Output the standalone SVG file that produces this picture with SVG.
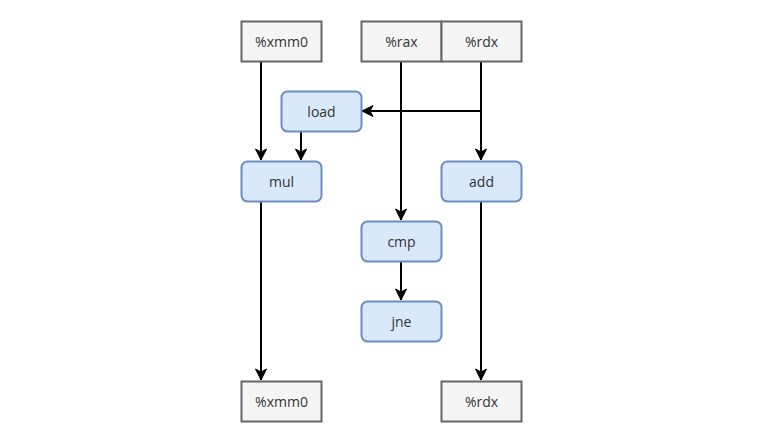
<svg xmlns="http://www.w3.org/2000/svg" width="762" height="442" viewBox="0 0 762 442">
  <style>
    .reg { fill: #f5f5f5; stroke: #666666; stroke-width: 2; }
    .op { fill: #dae8fc; stroke: #6c8ebf; stroke-width: 2; }
    .lbl { font-family: "Open Sans", "Noto Sans", sans-serif; font-size: 14px; fill: #333333; text-anchor: middle; dominant-baseline: central; }
    .edge { fill: none; stroke: #000000; stroke-width: 2; }
  </style>
  <defs>
    <marker id="arrow" markerUnits="userSpaceOnUse" markerWidth="16" markerHeight="16" viewBox="-13 -8 16 16" refX="0" refY="0" orient="auto">
      <path d="M 0 0 L -11 -5.5 L -8 0 L -11 5.5 Z" fill="#000000" stroke="#000000" stroke-width="1"/>
    </marker>
  </defs>
  <rect width="762" height="442" fill="#ffffff"/>

  <g id="connectors">
    <path class="edge" d="M 261 61 L 261 160" marker-end="url(#arrow)"/>
    <path class="edge" d="M 301 131 L 301 160" marker-end="url(#arrow)"/>
    <path class="edge" d="M 481 111 L 362 111" marker-end="url(#arrow)"/>
    <path class="edge" d="M 401 61 L 401 220" marker-end="url(#arrow)"/>
    <path class="edge" d="M 481 61 L 481 160" marker-end="url(#arrow)"/>
    <path class="edge" d="M 261 201 L 261 380" marker-end="url(#arrow)"/>
    <path class="edge" d="M 481 201 L 481 380" marker-end="url(#arrow)"/>
    <path class="edge" d="M 401 261 L 401 300" marker-end="url(#arrow)"/>
  </g>

  <g id="xmm0-in">
    <rect class="reg" x="241.5" y="21.5" width="80" height="40"/>
    <text class="lbl" x="281.5" y="41.5">%xmm0</text>
  </g>
  <g id="rax-in">
    <rect class="reg" x="361.5" y="21.5" width="80" height="40"/>
    <text class="lbl" x="401.5" y="41.5">%rax</text>
  </g>
  <g id="rdx-in">
    <rect class="reg" x="441.5" y="21.5" width="80" height="40"/>
    <text class="lbl" x="481.5" y="41.5">%rdx</text>
  </g>
  <g id="load">
    <rect class="op" x="281.5" y="91.5" width="80" height="40" rx="6" ry="6"/>
    <text class="lbl" x="321.5" y="111.5">load</text>
  </g>
  <g id="mul">
    <rect class="op" x="241.5" y="161.5" width="80" height="40" rx="6" ry="6"/>
    <text class="lbl" x="281.5" y="181.5">mul</text>
  </g>
  <g id="add">
    <rect class="op" x="441.5" y="161.5" width="80" height="40" rx="6" ry="6"/>
    <text class="lbl" x="481.5" y="181.5">add</text>
  </g>
  <g id="cmp">
    <rect class="op" x="361.5" y="221.5" width="80" height="40" rx="6" ry="6"/>
    <text class="lbl" x="401.5" y="241.5">cmp</text>
  </g>
  <g id="jne">
    <rect class="op" x="361.5" y="301.5" width="80" height="40" rx="6" ry="6"/>
    <text class="lbl" x="401.5" y="321.5">jne</text>
  </g>
  <g id="xmm0-out">
    <rect class="reg" x="241.5" y="381.5" width="80" height="40"/>
    <text class="lbl" x="281.5" y="401.5">%xmm0</text>
  </g>
  <g id="rdx-out">
    <rect class="reg" x="441.5" y="381.5" width="80" height="40"/>
    <text class="lbl" x="481.5" y="401.5">%rdx</text>
  </g>
</svg>
